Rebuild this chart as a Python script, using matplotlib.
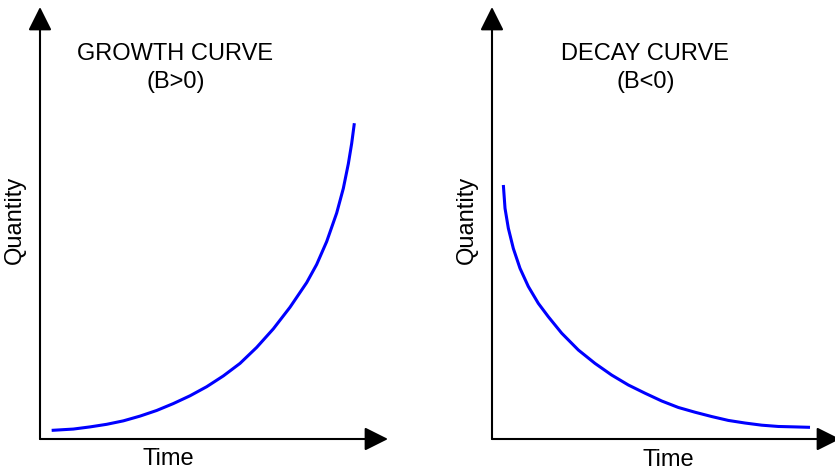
import matplotlib
matplotlib.use("Agg")
import matplotlib.pyplot as plt

plt.rcParams['font.family'] = ['Liberation Sans', 'DejaVu Sans']

# values (each axis runs 0..10 up to the arrow tip)
growth_time = [0.335, 0.958, 1.437, 1.916, 2.395, 2.874, 3.352, 3.831, 4.310, 4.789,
               5.268, 5.747, 6.226, 6.705, 7.184, 7.663, 7.950, 8.238, 8.525, 8.716,
               8.860, 8.956, 9.033]
growth_quantity = [0.20, 0.23, 0.28, 0.34, 0.42, 0.53, 0.66, 0.82, 1.00, 1.21,
                   1.46, 1.75, 2.12, 2.55, 3.05, 3.62, 4.04, 4.57, 5.23, 5.80,
                   6.37, 6.84, 7.31]

decay_time = [0.326, 0.374, 0.469, 0.613, 0.805, 1.044, 1.331, 1.619, 2.002, 2.481,
              2.960, 3.439, 3.918, 4.397, 4.876, 5.354, 5.833, 6.312, 6.791, 7.270,
              7.749, 8.228, 8.707, 9.138]
decay_quantity = [5.88, 5.34, 4.88, 4.41, 3.95, 3.53, 3.14, 2.83, 2.45, 2.06,
                  1.75, 1.48, 1.25, 1.06, 0.88, 0.73, 0.62, 0.52, 0.43, 0.37,
                  0.32, 0.29, 0.28, 0.27]

titles = ["GROWTH CURVE", "DECAY CURVE"]
subtitles = ["(B>0)", "(B<0)"]
xlabel = "Time"
ylabel = "Quantity"

W, H = 835, 470
fig = plt.figure(figsize=(W / 100, H / 100), dpi=100, facecolor='white')


def px(x, y):
    return x / W, 1 - y / H


def make_axes(x0, y0, width, height):
    ax = fig.add_axes([x0 / W, 1 - y0 / H, width / W, height / H])
    ax.set_xlim(0, 10)
    ax.set_ylim(0, 10)
    ax.axis('off')
    arrow = dict(arrowstyle='-|>,head_length=0.72,head_width=0.36', mutation_scale=20,
                 lw=1.5, color='black', shrinkA=0, shrinkB=0)
    ax.annotate('', xy=(10, 0), xytext=(0, 0), arrowprops=arrow, annotation_clip=False)
    ax.annotate('', xy=(0, 10), xytext=(0, 0), arrowprops=arrow, annotation_clip=False)
    return ax


ax1 = make_axes(40, 439, 348, 432)
ax1.plot(growth_time, growth_quantity, color='blue', lw=2.2, solid_capstyle='butt',
         solid_joinstyle='round', clip_on=False)

ax2 = make_axes(492, 439, 348, 432)
ax2.plot(decay_time, decay_quantity, color='blue', lw=2.2, solid_capstyle='butt',
         solid_joinstyle='round', clip_on=False)

fs = 17
fig.text(*px(175, 60), titles[0], ha='center', va='baseline', fontsize=fs)
fig.text(*px(176, 88), subtitles[0], ha='center', va='baseline', fontsize=fs)
fig.text(*px(645, 60), titles[1], ha='center', va='baseline', fontsize=fs)
fig.text(*px(646, 88), subtitles[1], ha='center', va='baseline', fontsize=fs)

fig.text(*px(168, 465), xlabel, ha='center', va='baseline', fontsize=fs)
fig.text(*px(668, 466), xlabel, ha='center', va='baseline', fontsize=fs)
fig.text(*px(14.5, 220), ylabel, ha='center', va='center', rotation=90, fontsize=fs)
fig.text(*px(467, 220), ylabel, ha='center', va='center', rotation=90, fontsize=fs)

fig.savefig("out.png", dpi=100, facecolor='white')
